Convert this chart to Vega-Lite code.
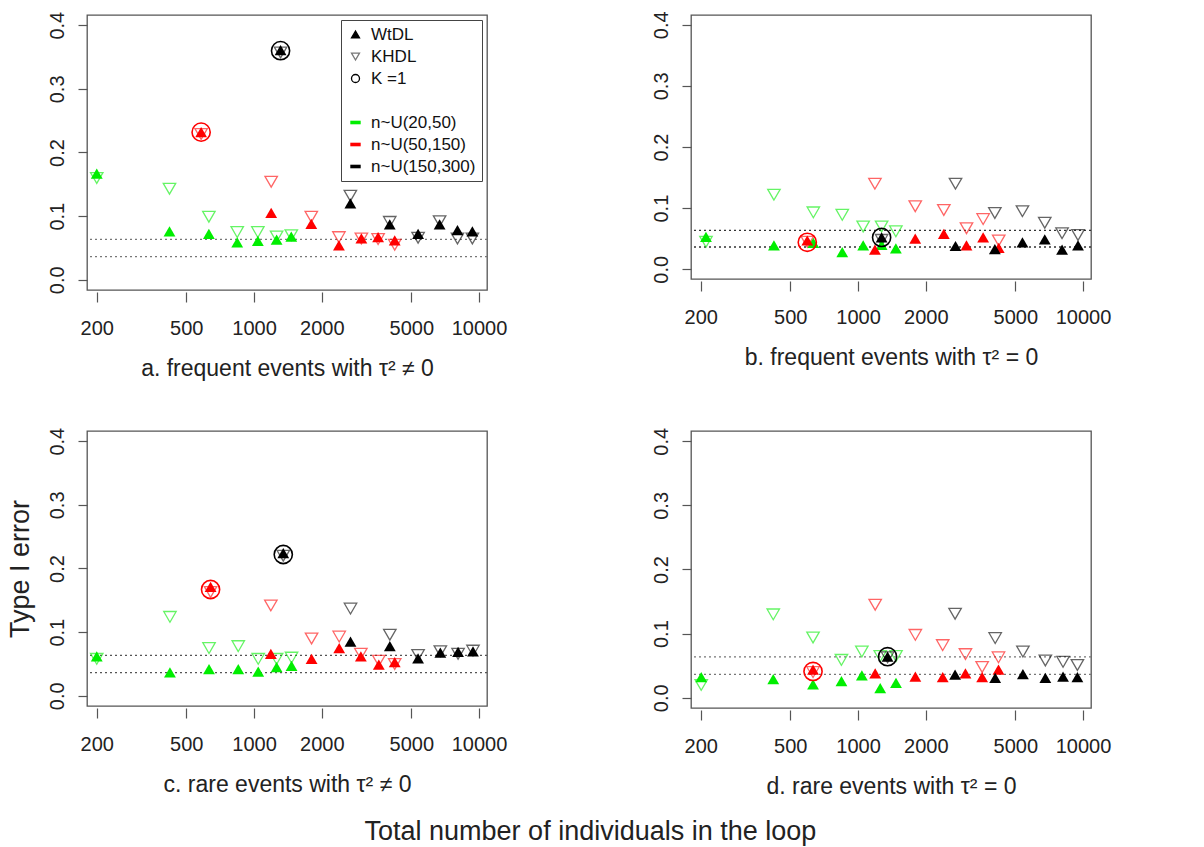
{
  "$schema": "https://vega.github.io/schema/vega-lite/v6.json",
  "padding": {"left": 5, "top": 10, "right": 5, "bottom": 5},
  "background": "white",
  "config": {
    "font": "Liberation Sans",
    "view": {"stroke": "#555", "strokeWidth": 1.3},
    "axis": {"grid": false, "domain": false, "tickColor": "#555", "tickWidth": 1.2, "labelColor": "#222", "labelFontSize": 20, "labelFont": "Liberation Sans", "titleFont": "Liberation Sans", "titleFontWeight": "normal", "titleColor": "#222", "labelFlush": false, "labelOverlap": false},
    "axisX": {"tickSize": 10, "offset": 2, "labelPadding": 16, "titleFontSize": 23, "titlePadding": 19},
    "axisY": {"tickSize": 9, "labelAngle": 270, "labelAlign": "center", "labelBaseline": "bottom", "labelPadding": 11, "titleFontSize": 27, "titlePadding": 13}
  },
  "title": {"text": "Total number of individuals in the loop", "orient": "bottom", "anchor": "middle", "fontSize": 27, "fontWeight": "normal", "font": "Liberation Sans", "color": "#222", "offset": 20, "dx": 32},
  "datasets": {
    "refs": [{"e": 0.0636}, {"e": 0.0364}],
    "pts": [
      {"p": "a", "g": "20-50", "m": "WtDL", "n": 200, "e": 0.167},
      {"p": "a", "g": "20-50", "m": "WtDL", "n": 421, "e": 0.076},
      {"p": "a", "g": "20-50", "m": "WtDL", "n": 630, "e": 0.072},
      {"p": "a", "g": "20-50", "m": "WtDL", "n": 842, "e": 0.059},
      {"p": "a", "g": "20-50", "m": "WtDL", "n": 1040, "e": 0.061},
      {"p": "a", "g": "20-50", "m": "WtDL", "n": 1260, "e": 0.063},
      {"p": "a", "g": "20-50", "m": "WtDL", "n": 1464, "e": 0.068},
      {"p": "a", "g": "20-50", "m": "KHDL", "n": 200, "e": 0.16},
      {"p": "a", "g": "20-50", "m": "KHDL", "n": 421, "e": 0.143},
      {"p": "a", "g": "20-50", "m": "KHDL", "n": 630, "e": 0.099},
      {"p": "a", "g": "20-50", "m": "KHDL", "n": 842, "e": 0.075},
      {"p": "a", "g": "20-50", "m": "KHDL", "n": 1040, "e": 0.075},
      {"p": "a", "g": "20-50", "m": "KHDL", "n": 1260, "e": 0.068},
      {"p": "a", "g": "20-50", "m": "KHDL", "n": 1464, "e": 0.07},
      {"p": "a", "g": "50-150", "m": "WtDL", "n": 582, "e": 0.232},
      {"p": "a", "g": "50-150", "m": "WtDL", "n": 1192, "e": 0.105},
      {"p": "a", "g": "50-150", "m": "WtDL", "n": 1797, "e": 0.088},
      {"p": "a", "g": "50-150", "m": "WtDL", "n": 2384, "e": 0.054},
      {"p": "a", "g": "50-150", "m": "WtDL", "n": 3000, "e": 0.065},
      {"p": "a", "g": "50-150", "m": "WtDL", "n": 3560, "e": 0.067},
      {"p": "a", "g": "50-150", "m": "WtDL", "n": 4220, "e": 0.062},
      {"p": "a", "g": "50-150", "m": "KHDL", "n": 582, "e": 0.229},
      {"p": "a", "g": "50-150", "m": "KHDL", "n": 1192, "e": 0.154},
      {"p": "a", "g": "50-150", "m": "KHDL", "n": 1797, "e": 0.099},
      {"p": "a", "g": "50-150", "m": "KHDL", "n": 2384, "e": 0.067},
      {"p": "a", "g": "50-150", "m": "KHDL", "n": 3000, "e": 0.065},
      {"p": "a", "g": "50-150", "m": "KHDL", "n": 3560, "e": 0.064},
      {"p": "a", "g": "50-150", "m": "KHDL", "n": 4220, "e": 0.055},
      {"p": "a", "g": "50-150", "m": "K1", "n": 582, "e": 0.232},
      {"p": "a", "g": "150-300", "m": "WtDL", "n": 1312, "e": 0.361},
      {"p": "a", "g": "150-300", "m": "WtDL", "n": 2680, "e": 0.12},
      {"p": "a", "g": "150-300", "m": "WtDL", "n": 4010, "e": 0.087},
      {"p": "a", "g": "150-300", "m": "WtDL", "n": 5360, "e": 0.072},
      {"p": "a", "g": "150-300", "m": "WtDL", "n": 6680, "e": 0.087},
      {"p": "a", "g": "150-300", "m": "WtDL", "n": 8020, "e": 0.078},
      {"p": "a", "g": "150-300", "m": "WtDL", "n": 9340, "e": 0.076},
      {"p": "a", "g": "150-300", "m": "KHDL", "n": 1312, "e": 0.357},
      {"p": "a", "g": "150-300", "m": "KHDL", "n": 2680, "e": 0.132},
      {"p": "a", "g": "150-300", "m": "KHDL", "n": 4010, "e": 0.091},
      {"p": "a", "g": "150-300", "m": "KHDL", "n": 5360, "e": 0.066},
      {"p": "a", "g": "150-300", "m": "KHDL", "n": 6680, "e": 0.092},
      {"p": "a", "g": "150-300", "m": "KHDL", "n": 8020, "e": 0.065},
      {"p": "a", "g": "150-300", "m": "KHDL", "n": 9340, "e": 0.065},
      {"p": "a", "g": "150-300", "m": "K1", "n": 1312, "e": 0.36},

      {"p": "b", "g": "20-50", "m": "WtDL", "n": 211, "e": 0.053},
      {"p": "b", "g": "20-50", "m": "WtDL", "n": 423, "e": 0.039},
      {"p": "b", "g": "20-50", "m": "WtDL", "n": 633, "e": 0.043},
      {"p": "b", "g": "20-50", "m": "WtDL", "n": 851, "e": 0.028},
      {"p": "b", "g": "20-50", "m": "WtDL", "n": 1054, "e": 0.039},
      {"p": "b", "g": "20-50", "m": "WtDL", "n": 1273, "e": 0.04},
      {"p": "b", "g": "20-50", "m": "WtDL", "n": 1473, "e": 0.034},
      {"p": "b", "g": "20-50", "m": "KHDL", "n": 211, "e": 0.045},
      {"p": "b", "g": "20-50", "m": "KHDL", "n": 423, "e": 0.122},
      {"p": "b", "g": "20-50", "m": "KHDL", "n": 633, "e": 0.093},
      {"p": "b", "g": "20-50", "m": "KHDL", "n": 851, "e": 0.089},
      {"p": "b", "g": "20-50", "m": "KHDL", "n": 1054, "e": 0.07},
      {"p": "b", "g": "20-50", "m": "KHDL", "n": 1273, "e": 0.07},
      {"p": "b", "g": "20-50", "m": "KHDL", "n": 1473, "e": 0.062},
      {"p": "b", "g": "50-150", "m": "WtDL", "n": 595, "e": 0.047},
      {"p": "b", "g": "50-150", "m": "WtDL", "n": 1189, "e": 0.032},
      {"p": "b", "g": "50-150", "m": "WtDL", "n": 1796, "e": 0.05},
      {"p": "b", "g": "50-150", "m": "WtDL", "n": 2406, "e": 0.058},
      {"p": "b", "g": "50-150", "m": "WtDL", "n": 3034, "e": 0.039},
      {"p": "b", "g": "50-150", "m": "WtDL", "n": 3598, "e": 0.052},
      {"p": "b", "g": "50-150", "m": "WtDL", "n": 4220, "e": 0.035},
      {"p": "b", "g": "50-150", "m": "KHDL", "n": 595, "e": 0.045},
      {"p": "b", "g": "50-150", "m": "KHDL", "n": 1189, "e": 0.14},
      {"p": "b", "g": "50-150", "m": "KHDL", "n": 1796, "e": 0.103},
      {"p": "b", "g": "50-150", "m": "KHDL", "n": 2406, "e": 0.097},
      {"p": "b", "g": "50-150", "m": "KHDL", "n": 3034, "e": 0.067},
      {"p": "b", "g": "50-150", "m": "KHDL", "n": 3598, "e": 0.082},
      {"p": "b", "g": "50-150", "m": "KHDL", "n": 4220, "e": 0.047},
      {"p": "b", "g": "50-150", "m": "K1", "n": 595, "e": 0.044},
      {"p": "b", "g": "150-300", "m": "WtDL", "n": 1273, "e": 0.052},
      {"p": "b", "g": "150-300", "m": "WtDL", "n": 2712, "e": 0.038},
      {"p": "b", "g": "150-300", "m": "WtDL", "n": 4056, "e": 0.033},
      {"p": "b", "g": "150-300", "m": "WtDL", "n": 5380, "e": 0.044},
      {"p": "b", "g": "150-300", "m": "WtDL", "n": 6760, "e": 0.049},
      {"p": "b", "g": "150-300", "m": "WtDL", "n": 8070, "e": 0.032},
      {"p": "b", "g": "150-300", "m": "WtDL", "n": 9500, "e": 0.039},
      {"p": "b", "g": "150-300", "m": "KHDL", "n": 1273, "e": 0.048},
      {"p": "b", "g": "150-300", "m": "KHDL", "n": 2712, "e": 0.14},
      {"p": "b", "g": "150-300", "m": "KHDL", "n": 4056, "e": 0.092},
      {"p": "b", "g": "150-300", "m": "KHDL", "n": 5380, "e": 0.095},
      {"p": "b", "g": "150-300", "m": "KHDL", "n": 6760, "e": 0.076},
      {"p": "b", "g": "150-300", "m": "KHDL", "n": 8070, "e": 0.059},
      {"p": "b", "g": "150-300", "m": "KHDL", "n": 9500, "e": 0.056},
      {"p": "b", "g": "150-300", "m": "K1", "n": 1273, "e": 0.052},

      {"p": "c", "g": "20-50", "m": "WtDL", "n": 200, "e": 0.062},
      {"p": "c", "g": "20-50", "m": "WtDL", "n": 423, "e": 0.037},
      {"p": "c", "g": "20-50", "m": "WtDL", "n": 631, "e": 0.042},
      {"p": "c", "g": "20-50", "m": "WtDL", "n": 851, "e": 0.042},
      {"p": "c", "g": "20-50", "m": "WtDL", "n": 1044, "e": 0.038},
      {"p": "c", "g": "20-50", "m": "WtDL", "n": 1260, "e": 0.045},
      {"p": "c", "g": "20-50", "m": "WtDL", "n": 1468, "e": 0.047},
      {"p": "c", "g": "20-50", "m": "KHDL", "n": 200, "e": 0.058},
      {"p": "c", "g": "20-50", "m": "KHDL", "n": 423, "e": 0.124},
      {"p": "c", "g": "20-50", "m": "KHDL", "n": 631, "e": 0.075},
      {"p": "c", "g": "20-50", "m": "KHDL", "n": 851, "e": 0.078},
      {"p": "c", "g": "20-50", "m": "KHDL", "n": 1044, "e": 0.058},
      {"p": "c", "g": "20-50", "m": "KHDL", "n": 1260, "e": 0.058},
      {"p": "c", "g": "20-50", "m": "KHDL", "n": 1468, "e": 0.06},
      {"p": "c", "g": "50-150", "m": "WtDL", "n": 641, "e": 0.171},
      {"p": "c", "g": "50-150", "m": "WtDL", "n": 1188, "e": 0.066},
      {"p": "c", "g": "50-150", "m": "WtDL", "n": 1802, "e": 0.058},
      {"p": "c", "g": "50-150", "m": "WtDL", "n": 2391, "e": 0.075},
      {"p": "c", "g": "50-150", "m": "WtDL", "n": 2984, "e": 0.062},
      {"p": "c", "g": "50-150", "m": "WtDL", "n": 3586, "e": 0.049},
      {"p": "c", "g": "50-150", "m": "WtDL", "n": 4220, "e": 0.053},
      {"p": "c", "g": "50-150", "m": "KHDL", "n": 641, "e": 0.163},
      {"p": "c", "g": "50-150", "m": "KHDL", "n": 1188, "e": 0.142},
      {"p": "c", "g": "50-150", "m": "KHDL", "n": 1802, "e": 0.09},
      {"p": "c", "g": "50-150", "m": "KHDL", "n": 2391, "e": 0.093},
      {"p": "c", "g": "50-150", "m": "KHDL", "n": 2984, "e": 0.066},
      {"p": "c", "g": "50-150", "m": "KHDL", "n": 3586, "e": 0.055},
      {"p": "c", "g": "50-150", "m": "KHDL", "n": 4220, "e": 0.05},
      {"p": "c", "g": "50-150", "m": "K1", "n": 641, "e": 0.167},
      {"p": "c", "g": "150-300", "m": "WtDL", "n": 1349, "e": 0.224},
      {"p": "c", "g": "150-300", "m": "WtDL", "n": 2684, "e": 0.085},
      {"p": "c", "g": "150-300", "m": "WtDL", "n": 4014, "e": 0.078},
      {"p": "c", "g": "150-300", "m": "WtDL", "n": 5360, "e": 0.059},
      {"p": "c", "g": "150-300", "m": "WtDL", "n": 6730, "e": 0.068},
      {"p": "c", "g": "150-300", "m": "WtDL", "n": 8070, "e": 0.069},
      {"p": "c", "g": "150-300", "m": "WtDL", "n": 9400, "e": 0.07},
      {"p": "c", "g": "150-300", "m": "KHDL", "n": 1349, "e": 0.22},
      {"p": "c", "g": "150-300", "m": "KHDL", "n": 2684, "e": 0.137},
      {"p": "c", "g": "150-300", "m": "KHDL", "n": 4014, "e": 0.096},
      {"p": "c", "g": "150-300", "m": "KHDL", "n": 5360, "e": 0.064},
      {"p": "c", "g": "150-300", "m": "KHDL", "n": 6730, "e": 0.07},
      {"p": "c", "g": "150-300", "m": "KHDL", "n": 8070, "e": 0.066},
      {"p": "c", "g": "150-300", "m": "KHDL", "n": 9400, "e": 0.071},
      {"p": "c", "g": "150-300", "m": "K1", "n": 1349, "e": 0.222},

      {"p": "d", "g": "20-50", "m": "WtDL", "n": 201, "e": 0.032},
      {"p": "d", "g": "20-50", "m": "WtDL", "n": 420, "e": 0.029},
      {"p": "d", "g": "20-50", "m": "WtDL", "n": 631, "e": 0.021},
      {"p": "d", "g": "20-50", "m": "WtDL", "n": 844, "e": 0.026},
      {"p": "d", "g": "20-50", "m": "WtDL", "n": 1040, "e": 0.035},
      {"p": "d", "g": "20-50", "m": "WtDL", "n": 1255, "e": 0.015},
      {"p": "d", "g": "20-50", "m": "WtDL", "n": 1475, "e": 0.023},
      {"p": "d", "g": "20-50", "m": "KHDL", "n": 201, "e": 0.02},
      {"p": "d", "g": "20-50", "m": "KHDL", "n": 420, "e": 0.13},
      {"p": "d", "g": "20-50", "m": "KHDL", "n": 631, "e": 0.094},
      {"p": "d", "g": "20-50", "m": "KHDL", "n": 844, "e": 0.059},
      {"p": "d", "g": "20-50", "m": "KHDL", "n": 1040, "e": 0.072},
      {"p": "d", "g": "20-50", "m": "KHDL", "n": 1255, "e": 0.065},
      {"p": "d", "g": "20-50", "m": "KHDL", "n": 1475, "e": 0.065},
      {"p": "d", "g": "50-150", "m": "WtDL", "n": 631, "e": 0.044},
      {"p": "d", "g": "50-150", "m": "WtDL", "n": 1192, "e": 0.038},
      {"p": "d", "g": "50-150", "m": "WtDL", "n": 1798, "e": 0.033},
      {"p": "d", "g": "50-150", "m": "WtDL", "n": 2379, "e": 0.032},
      {"p": "d", "g": "50-150", "m": "WtDL", "n": 3002, "e": 0.038},
      {"p": "d", "g": "50-150", "m": "WtDL", "n": 3562, "e": 0.032},
      {"p": "d", "g": "50-150", "m": "WtDL", "n": 4210, "e": 0.044},
      {"p": "d", "g": "50-150", "m": "KHDL", "n": 631, "e": 0.04},
      {"p": "d", "g": "50-150", "m": "KHDL", "n": 1192, "e": 0.145},
      {"p": "d", "g": "50-150", "m": "KHDL", "n": 1798, "e": 0.098},
      {"p": "d", "g": "50-150", "m": "KHDL", "n": 2379, "e": 0.082},
      {"p": "d", "g": "50-150", "m": "KHDL", "n": 3002, "e": 0.068},
      {"p": "d", "g": "50-150", "m": "KHDL", "n": 3562, "e": 0.048},
      {"p": "d", "g": "50-150", "m": "KHDL", "n": 4210, "e": 0.063},
      {"p": "d", "g": "50-150", "m": "K1", "n": 631, "e": 0.041},
      {"p": "d", "g": "150-300", "m": "WtDL", "n": 1353, "e": 0.064},
      {"p": "d", "g": "150-300", "m": "WtDL", "n": 2700, "e": 0.036},
      {"p": "d", "g": "150-300", "m": "WtDL", "n": 4070, "e": 0.031},
      {"p": "d", "g": "150-300", "m": "WtDL", "n": 5405, "e": 0.037},
      {"p": "d", "g": "150-300", "m": "WtDL", "n": 6800, "e": 0.031},
      {"p": "d", "g": "150-300", "m": "WtDL", "n": 8150, "e": 0.033},
      {"p": "d", "g": "150-300", "m": "WtDL", "n": 9440, "e": 0.032},
      {"p": "d", "g": "150-300", "m": "KHDL", "n": 1353, "e": 0.063},
      {"p": "d", "g": "150-300", "m": "KHDL", "n": 2700, "e": 0.131},
      {"p": "d", "g": "150-300", "m": "KHDL", "n": 4070, "e": 0.093},
      {"p": "d", "g": "150-300", "m": "KHDL", "n": 5405, "e": 0.072},
      {"p": "d", "g": "150-300", "m": "KHDL", "n": 6800, "e": 0.058},
      {"p": "d", "g": "150-300", "m": "KHDL", "n": 8150, "e": 0.056},
      {"p": "d", "g": "150-300", "m": "KHDL", "n": 9440, "e": 0.051},
      {"p": "d", "g": "150-300", "m": "K1", "n": 1353, "e": 0.064}
    ]
  },
  "columns": 2,
  "bounds": "flush",
  "spacing": {"row": 141, "column": 204},
  "resolve": {"scale": {"shape": "independent", "fill": "independent", "stroke": "independent"}, "legend": {"shape": "independent", "fill": "independent", "stroke": "independent"}},
  "concat": [
    {
      "width": 400, "height": 275,
      "data": {"name": "pts"},
      "encoding": {"y": {"field": "e", "type": "quantitative", "title": null, "scale": {"domain": [-0.016, 0.416], "nice": false, "zero": false}, "axis": {"values": [0, 0.1, 0.2, 0.3, 0.4], "format": ".1f"}}},
      "layer": [
        {"data": {"name": "refs"}, "mark": {"type": "rule", "color": "#777", "strokeDash": [2, 3], "strokeWidth": 1.3}},
        {"transform": [{"filter": "datum.p === 'a' && datum.m === 'KHDL'"}],
         "mark": {"type": "point", "shape": "triangle-down", "filled": false, "size": 155, "strokeWidth": 1.3, "opacity": 0.6},
         "encoding": {"x": {"field": "n", "type": "quantitative", "title": "a. frequent events with τ² ≠ 0", "scale": {"type": "log", "domain": [181, 10850], "nice": false}, "axis": {"values": [200, 500, 1000, 2000, 5000, 10000], "format": "d"}},
                      "color": {"field": "g", "type": "nominal", "scale": {"domain": ["20-50", "50-150", "150-300"], "range": ["#00ee00", "#ff0000", "#000000"]}, "legend": null}}},
        {"transform": [{"filter": "datum.p === 'a' && datum.m === 'WtDL'"}],
         "mark": {"type": "point", "shape": "triangle-up", "filled": true, "size": 140, "opacity": 1},
         "encoding": {"x": {"field": "n", "type": "quantitative", "title": "a. frequent events with τ² ≠ 0", "scale": {"type": "log", "domain": [181, 10850], "nice": false}, "axis": {"values": [200, 500, 1000, 2000, 5000, 10000], "format": "d"}},
                      "color": {"field": "g", "type": "nominal", "scale": {"domain": ["20-50", "50-150", "150-300"], "range": ["#00ee00", "#ff0000", "#000000"]}, "legend": null}}},
        {"transform": [{"filter": "datum.p === 'a' && datum.m === 'K1'"}],
         "mark": {"type": "point", "shape": "circle", "filled": false, "size": 330, "strokeWidth": 1.6, "opacity": 1},
         "encoding": {"x": {"field": "n", "type": "quantitative", "title": "a. frequent events with τ² ≠ 0", "scale": {"type": "log", "domain": [181, 10850], "nice": false}, "axis": {"values": [200, 500, 1000, 2000, 5000, 10000], "format": "d"}},
                      "color": {"field": "g", "type": "nominal", "scale": {"domain": ["20-50", "50-150", "150-300"], "range": ["#00ee00", "#ff0000", "#000000"]}, "legend": null}}},
        {"transform": [{"filter": "datum.p === 'none'"}],
         "mark": {"type": "point", "strokeWidth": 1.3, "opacity": 1},
         "encoding": {
           "shape": {"field": "key", "type": "nominal",
             "scale": {"domain": ["WtDL", "KHDL", "K =1", " ", "n~U(20,50)", "n~U(50,150)", "n~U(150,300)"], "range": ["triangle-up", "triangle-down", "circle", "circle", "M-1.3,-0.45H1.3V0.45H-1.3Z", "M-1.3,-0.45H1.3V0.45H-1.3Z", "M-1.3,-0.45H1.3V0.45H-1.3Z"]},
             "legend": {"title": null, "orient": "top-right", "offset": 5, "padding": 6, "strokeColor": "#444", "fillColor": "white", "labelFontSize": 17, "labelFont": "Liberation Sans", "labelColor": "#111", "symbolSize": 64, "symbolStrokeWidth": 1.3, "rowPadding": 4, "labelOffset": 7}},
           "fill": {"field": "key", "type": "nominal",
             "scale": {"domain": ["WtDL", "KHDL", "K =1", " ", "n~U(20,50)", "n~U(50,150)", "n~U(150,300)"], "range": ["#000000", "transparent", "transparent", "transparent", "#00ee00", "#ff0000", "#000000"]},
             "legend": {"title": null, "orient": "top-right", "offset": 5, "padding": 6, "strokeColor": "#444", "fillColor": "white", "labelFontSize": 17, "labelFont": "Liberation Sans", "labelColor": "#111", "symbolSize": 64, "symbolStrokeWidth": 1.3, "rowPadding": 4, "labelOffset": 7}},
           "stroke": {"field": "key", "type": "nominal",
             "scale": {"domain": ["WtDL", "KHDL", "K =1", " ", "n~U(20,50)", "n~U(50,150)", "n~U(150,300)"], "range": ["#000000", "#777777", "#000000", "transparent", "transparent", "transparent", "transparent"]},
             "legend": {"title": null, "orient": "top-right", "offset": 5, "padding": 6, "strokeColor": "#444", "fillColor": "white", "labelFontSize": 17, "labelFont": "Liberation Sans", "labelColor": "#111", "symbolSize": 64, "symbolStrokeWidth": 1.3, "rowPadding": 4, "labelOffset": 7}}
         }}
      ]
    },
    {
      "width": 400, "height": 264,
      "data": {"name": "pts"},
      "encoding": {"y": {"field": "e", "type": "quantitative", "title": null, "scale": {"domain": [-0.016, 0.416], "nice": false, "zero": false}, "axis": {"values": [0, 0.1, 0.2, 0.3, 0.4], "format": ".1f"}}},
      "layer": [
        {"data": {"name": "refs"}, "mark": {"type": "rule", "color": "#333", "strokeDash": [2, 3], "strokeWidth": 1.3}},
        {"transform": [{"filter": "datum.p === 'b' && datum.m === 'KHDL'"}],
         "mark": {"type": "point", "shape": "triangle-down", "filled": false, "size": 155, "strokeWidth": 1.3, "opacity": 0.6},
         "encoding": {"x": {"field": "n", "type": "quantitative", "title": "b. frequent events with τ² = 0", "scale": {"type": "log", "domain": [181, 10850], "nice": false}, "axis": {"values": [200, 500, 1000, 2000, 5000, 10000], "format": "d"}},
                      "color": {"field": "g", "type": "nominal", "scale": {"domain": ["20-50", "50-150", "150-300"], "range": ["#00ee00", "#ff0000", "#000000"]}, "legend": null}}},
        {"transform": [{"filter": "datum.p === 'b' && datum.m === 'WtDL'"}],
         "mark": {"type": "point", "shape": "triangle-up", "filled": true, "size": 140, "opacity": 1},
         "encoding": {"x": {"field": "n", "type": "quantitative", "title": "b. frequent events with τ² = 0", "scale": {"type": "log", "domain": [181, 10850], "nice": false}, "axis": {"values": [200, 500, 1000, 2000, 5000, 10000], "format": "d"}},
                      "color": {"field": "g", "type": "nominal", "scale": {"domain": ["20-50", "50-150", "150-300"], "range": ["#00ee00", "#ff0000", "#000000"]}, "legend": null}}},
        {"transform": [{"filter": "datum.p === 'b' && datum.m === 'K1'"}],
         "mark": {"type": "point", "shape": "circle", "filled": false, "size": 330, "strokeWidth": 1.6, "opacity": 1},
         "encoding": {"x": {"field": "n", "type": "quantitative", "title": "b. frequent events with τ² = 0", "scale": {"type": "log", "domain": [181, 10850], "nice": false}, "axis": {"values": [200, 500, 1000, 2000, 5000, 10000], "format": "d"}},
                      "color": {"field": "g", "type": "nominal", "scale": {"domain": ["20-50", "50-150", "150-300"], "range": ["#00ee00", "#ff0000", "#000000"]}, "legend": null}}}
      ]
    },
    {
      "width": 400, "height": 275,
      "data": {"name": "pts"},
      "encoding": {"y": {"field": "e", "type": "quantitative", "title": "Type I error", "scale": {"domain": [-0.016, 0.416], "nice": false, "zero": false}, "axis": {"values": [0, 0.1, 0.2, 0.3, 0.4], "format": ".1f"}}},
      "layer": [
        {"data": {"name": "refs"}, "mark": {"type": "rule", "color": "#555", "strokeDash": [2, 3], "strokeWidth": 1.3}},
        {"transform": [{"filter": "datum.p === 'c' && datum.m === 'KHDL'"}],
         "mark": {"type": "point", "shape": "triangle-down", "filled": false, "size": 155, "strokeWidth": 1.3, "opacity": 0.6},
         "encoding": {"x": {"field": "n", "type": "quantitative", "title": "c. rare events with τ² ≠ 0", "scale": {"type": "log", "domain": [181, 10850], "nice": false}, "axis": {"values": [200, 500, 1000, 2000, 5000, 10000], "format": "d"}},
                      "color": {"field": "g", "type": "nominal", "scale": {"domain": ["20-50", "50-150", "150-300"], "range": ["#00ee00", "#ff0000", "#000000"]}, "legend": null}}},
        {"transform": [{"filter": "datum.p === 'c' && datum.m === 'WtDL'"}],
         "mark": {"type": "point", "shape": "triangle-up", "filled": true, "size": 140, "opacity": 1},
         "encoding": {"x": {"field": "n", "type": "quantitative", "title": "c. rare events with τ² ≠ 0", "scale": {"type": "log", "domain": [181, 10850], "nice": false}, "axis": {"values": [200, 500, 1000, 2000, 5000, 10000], "format": "d"}},
                      "color": {"field": "g", "type": "nominal", "scale": {"domain": ["20-50", "50-150", "150-300"], "range": ["#00ee00", "#ff0000", "#000000"]}, "legend": null}}},
        {"transform": [{"filter": "datum.p === 'c' && datum.m === 'K1'"}],
         "mark": {"type": "point", "shape": "circle", "filled": false, "size": 330, "strokeWidth": 1.6, "opacity": 1},
         "encoding": {"x": {"field": "n", "type": "quantitative", "title": "c. rare events with τ² ≠ 0", "scale": {"type": "log", "domain": [181, 10850], "nice": false}, "axis": {"values": [200, 500, 1000, 2000, 5000, 10000], "format": "d"}},
                      "color": {"field": "g", "type": "nominal", "scale": {"domain": ["20-50", "50-150", "150-300"], "range": ["#00ee00", "#ff0000", "#000000"]}, "legend": null}}}
      ]
    },
    {
      "width": 400, "height": 277,
      "data": {"name": "pts"},
      "encoding": {"y": {"field": "e", "type": "quantitative", "title": null, "scale": {"domain": [-0.016, 0.416], "nice": false, "zero": false}, "axis": {"values": [0, 0.1, 0.2, 0.3, 0.4], "format": ".1f"}}},
      "layer": [
        {"data": {"name": "refs"}, "mark": {"type": "rule", "color": "#777", "strokeDash": [2, 3], "strokeWidth": 1.3}},
        {"transform": [{"filter": "datum.p === 'd' && datum.m === 'KHDL'"}],
         "mark": {"type": "point", "shape": "triangle-down", "filled": false, "size": 155, "strokeWidth": 1.3, "opacity": 0.6},
         "encoding": {"x": {"field": "n", "type": "quantitative", "title": "d. rare events with τ² = 0", "scale": {"type": "log", "domain": [181, 10850], "nice": false}, "axis": {"values": [200, 500, 1000, 2000, 5000, 10000], "format": "d"}},
                      "color": {"field": "g", "type": "nominal", "scale": {"domain": ["20-50", "50-150", "150-300"], "range": ["#00ee00", "#ff0000", "#000000"]}, "legend": null}}},
        {"transform": [{"filter": "datum.p === 'd' && datum.m === 'WtDL'"}],
         "mark": {"type": "point", "shape": "triangle-up", "filled": true, "size": 140, "opacity": 1},
         "encoding": {"x": {"field": "n", "type": "quantitative", "title": "d. rare events with τ² = 0", "scale": {"type": "log", "domain": [181, 10850], "nice": false}, "axis": {"values": [200, 500, 1000, 2000, 5000, 10000], "format": "d"}},
                      "color": {"field": "g", "type": "nominal", "scale": {"domain": ["20-50", "50-150", "150-300"], "range": ["#00ee00", "#ff0000", "#000000"]}, "legend": null}}},
        {"transform": [{"filter": "datum.p === 'd' && datum.m === 'K1'"}],
         "mark": {"type": "point", "shape": "circle", "filled": false, "size": 330, "strokeWidth": 1.6, "opacity": 1},
         "encoding": {"x": {"field": "n", "type": "quantitative", "title": "d. rare events with τ² = 0", "scale": {"type": "log", "domain": [181, 10850], "nice": false}, "axis": {"values": [200, 500, 1000, 2000, 5000, 10000], "format": "d"}},
                      "color": {"field": "g", "type": "nominal", "scale": {"domain": ["20-50", "50-150", "150-300"], "range": ["#00ee00", "#ff0000", "#000000"]}, "legend": null}}}
      ]
    }
  ]
}
